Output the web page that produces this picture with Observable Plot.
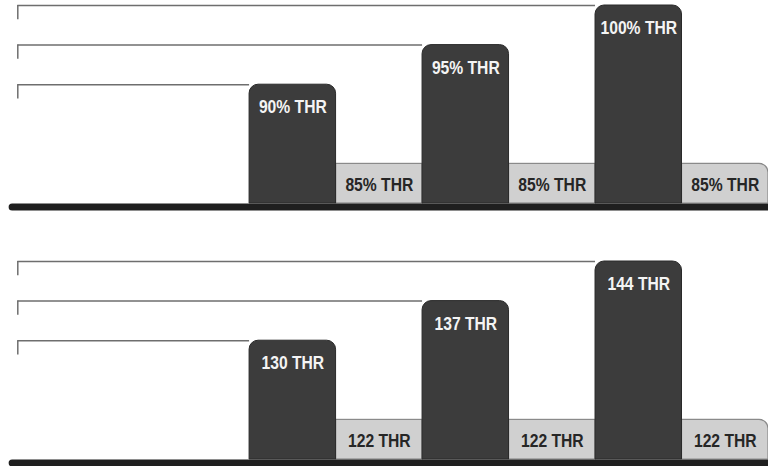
<!DOCTYPE html>
<html>
<head>
<meta charset="utf-8">
<script src="https://cdn.jsdelivr.net/npm/d3@7"></script>
<script src="https://cdn.jsdelivr.net/npm/@observablehq/plot@0.6"></script>
<style>
  html, body { margin: 0; padding: 0; background: #fff; }
  #chart svg { display: block; }
</style>
</head>
<body>
<div id="chart"></div>
<script>
// Segment order along the x axis (left to right)
const segmentKinds = ["step", "rest", "step", "rest", "step", "rest"];
// Visual height of each segment (in units of the light bar height)
const segmentLevels = [3, 1, 4, 1, 5, 1];
// Labels of the top panel (percent of threshold)
const pctLabels = ["90% THR", "85% THR", "95% THR", "85% THR", "100% THR", "85% THR"];
// Labels of the bottom panel (threshold value)
const thrLabels = ["130 THR", "122 THR", "137 THR", "122 THR", "144 THR", "122 THR"];

const xDomain = [-2.88, 6];
const leaderStart = -2.68;
const fontFamily = "'Liberation Sans', Arial, sans-serif";
const condense = 0.87;

function panel(labels, marginTop, marginBottom) {
  const rows = segmentKinds.map((kind, i) => ({i, kind, level: segmentLevels[i], label: labels[i]}));
  const steps = rows.filter(d => d.kind === "step");
  const rests = rows.filter(d => d.kind === "rest");
  const lastRest = rests.slice(-1);
  const otherRests = rests.slice(0, -1);
  const svg = Plot.plot({
    width: 768,
    height: 233,
    marginTop, marginBottom,
    marginLeft: 0, marginRight: 0,
    x: {domain: xDomain, axis: null},
    y: {domain: [0, d3.max(segmentLevels)], axis: null},
    marks: [
      Plot.ruleY(steps, {y: "level", x1: leaderStart, x2: "i", stroke: "#6e6e6e", strokeWidth: 1.5}),
      Plot.ruleX(steps, {x: leaderStart, y1: "level", y2: d => d.level - 0.36, stroke: "#6e6e6e", strokeWidth: 1.5}),
      Plot.rectY(otherRests, {x1: "i", x2: d => d.i + 1, y1: 0, y2: "level", fill: "#d0d0d0", stroke: "#8a8a8a", strokeWidth: 1.2}),
      Plot.rectY(lastRest, {x1: "i", x2: d => d.i + 1, y1: 0, y2: "level", fill: "#d0d0d0", stroke: "#8a8a8a", strokeWidth: 1.2, rx2y2: 9}),
      Plot.rectY(steps, {x1: "i", x2: d => d.i + 1, y1: 0, y2: "level", fill: "#3c3c3c", stroke: "#2a2a2a", strokeWidth: 1, ry2: 9}),
      Plot.ruleY([0], {x1: -2.74, x2: 6.2, stroke: "#1f1f1f", strokeWidth: 7, strokeLinecap: "round", dy: 3.5}),
      Plot.text(steps, {x: d => d.i + 0.5, y: "level", text: "label", dy: 23, fill: "#f4f4f4",
        fontFamily, fontWeight: "bold", fontSize: 18}),
      Plot.text(rests, {x: d => d.i + 0.5, y: 0, text: "label", dy: -18, fill: "#262626",
        fontFamily, fontWeight: "bold", fontSize: 18})
    ]
  });
  // condensed look of the original lettering
  svg.querySelectorAll("text").forEach(t => {
    const tr = t.getAttribute("transform");
    if (tr) t.setAttribute("transform", tr + ` scale(${condense},1)`);
    else {
      const x = +t.getAttribute("x") || 0, y = +t.getAttribute("y") || 0;
      t.removeAttribute("x"); t.removeAttribute("y");
      t.setAttribute("transform", `translate(${x},${y}) scale(${condense},1)`);
    }
  });
  return svg;
}

const chart = document.getElementById("chart");
chart.appendChild(panel(pctLabels, 5, 30));
chart.appendChild(panel(thrLabels, 28, 7));
</script>
</body>
</html>
